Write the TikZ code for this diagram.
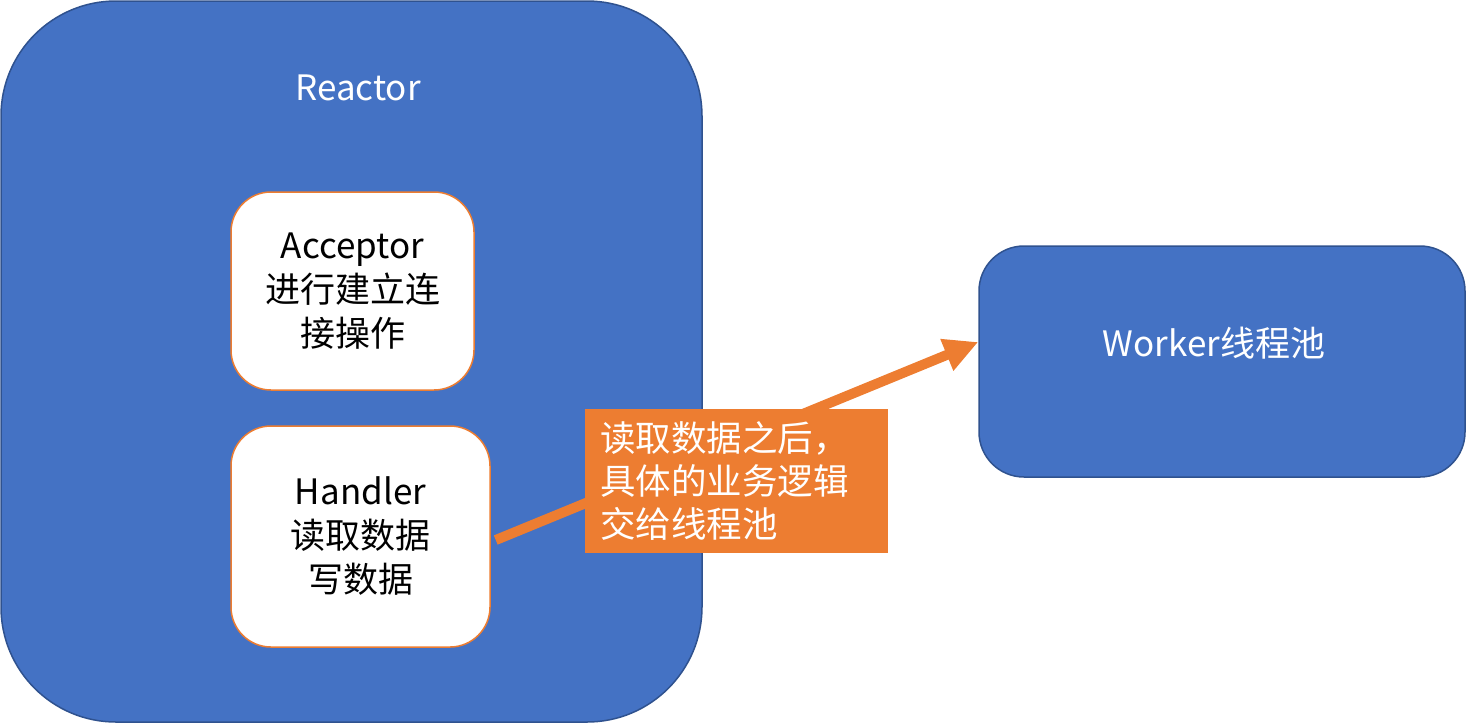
\documentclass[tikz,border=0pt]{standalone}
\usepackage{fontspec}
\setmainfont{Noto Sans CJK SC}
\usetikzlibrary{arrows.meta}
\definecolor{ablue}{HTML}{4472C4}
\definecolor{bblue}{HTML}{2F528F}
\definecolor{aorange}{HTML}{ED7D31}
\tikzset{
  bigbox/.style={draw=bblue, fill=ablue, line width=1.5pt, inner sep=0pt},
  innerbox/.style={draw=aorange, fill=white, line width=1.5pt, rounded corners=40pt, inner sep=0pt, align=center, font=\fontsize{35pt}{44pt}\selectfont},
  labelbox/.style={fill=aorange, inner xsep=15pt, inner ysep=0pt, text=white, align=left, font=\fontsize{35.5pt}{43pt}\selectfont},
  wtext/.style={text=white, font=\fontsize{35pt}{44pt}\selectfont},
  flow/.style={draw=aorange, line width=10pt, -{Triangle[length=34pt,width=32pt]}}
}
\begin{document}
\begin{tikzpicture}[x=1pt,y=1pt]
\useasboundingbox (0,0) rectangle (1466,-724);
\node[bigbox, rounded corners=115pt, minimum width=701pt, minimum height=721pt] (reactor) at (351.5,-361.5) {};
\node[wtext] (rtitle) at (358,-88) {Reactor};
\node[innerbox, minimum width=243pt, minimum height=198pt] (acceptor) at (352.5,-291) {Acceptor\\进行建立连\\接操作};
\node[innerbox, minimum width=259pt, minimum height=221pt] (handler) at (360.5,-536.5) {Handler\\读取数据\\写数据};
\node[bigbox, rounded corners=45pt, minimum width=486pt, minimum height=231pt] (worker) at (1222,-361.5) {};
\node[wtext] (wtitle) at (1214,-343) {Worker线程池};
\draw[flow] ([shift={(5pt,-3.5pt)}]handler.east) -- ([yshift=19.5pt]worker.west);
\node[labelbox, minimum height=144pt, text width=273pt] (label) at (736.5,-481) {读取数据之后，\\具体的业务逻辑\\交给线程池};
\end{tikzpicture}
\end{document}
